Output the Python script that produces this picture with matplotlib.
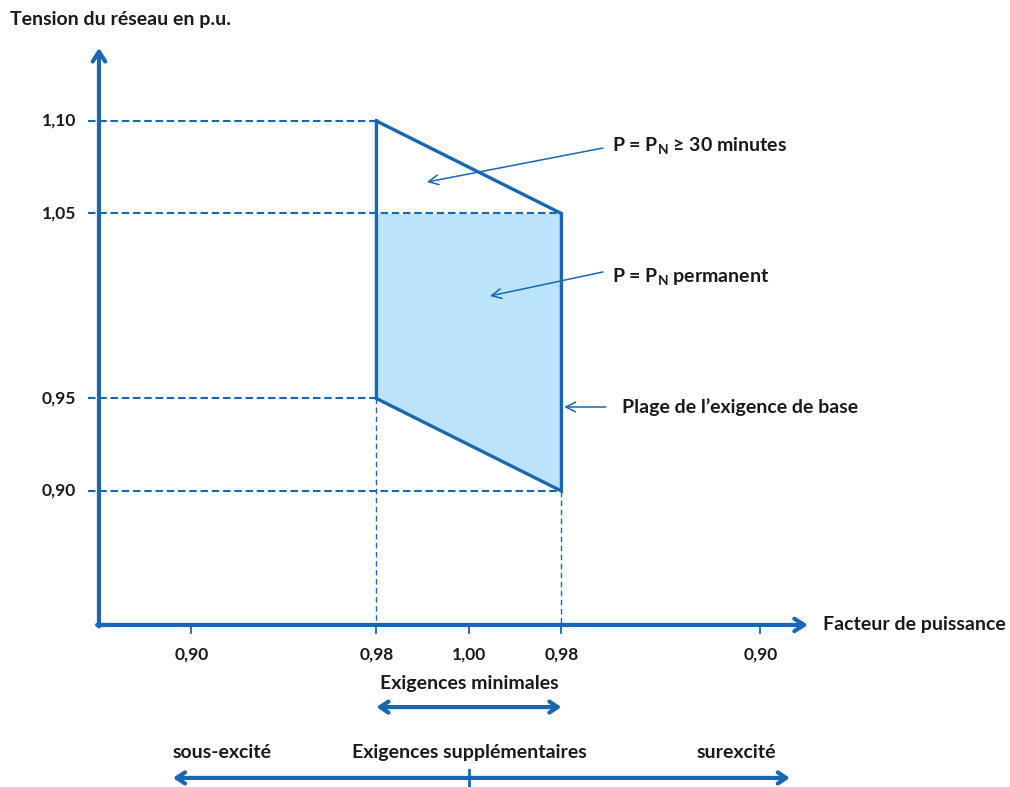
import matplotlib
matplotlib.use("Agg")
import matplotlib.pyplot as plt

# Data
#
volt_levels = [1.10, 1.05, 0.95, 0.90]
volt_labels = ["1,10", "1,05", "0,95", "0,90"]
pf_labels = ["0,90", "0,98", "1,00", "0,98", "0,90"]
pf_pos = [-3.0, -1.0, 0.0, 1.0, 3.15]

# Operating region (under-excited 0,98 -> over-excited 0,98)
#
region_x = [-1.0, 1.0]
region_top = [1.10, 1.05]
region_bottom = [0.95, 0.90]
permanent_top = 1.05

BLUE = "#1767b2"
FILL = "#bbe3fb"
TXT = "#1a1a1a"
FONT = ["Lato", "DejaVu Sans"]
FS = 14
FS_TICK = 12.5

plt.rcParams["font.family"] = FONT
plt.rcParams["font.weight"] = "bold"
plt.rcParams["mathtext.default"] = "regular"

fig = plt.figure(figsize=(10.1, 7.87), dpi=100)
ax = fig.add_axes([0, 0, 1, 1])
ax.set_xlim(-5.07, 5.85)
ax.set_ylim(0.74, 1.1654)
ax.axis("off")

x0, y0 = -4.0, 0.8276
x_end, y_end = 3.665, 1.1395

# Axes with arrows
#
head = "->,head_length=0.7,head_width=0.45"
ax.annotate("", xy=(x0, y_end), xytext=(x0, y0 - 0.0008),
            arrowprops=dict(arrowstyle=head, color=BLUE, lw=3.0,
                            shrinkA=0, shrinkB=0))
ax.annotate("", xy=(x_end, y0), xytext=(x0 - 0.02, y0),
            arrowprops=dict(arrowstyle=head, color=BLUE, lw=3.0,
                            shrinkA=0, shrinkB=0))

# Shaded permanent region
#
ax.fill_between(region_x, [permanent_top, permanent_top], region_bottom,
                color=FILL, lw=0, zorder=1)

# Dashed guide lines
#
dash = (3.6, 1.8)
for v, lab in zip(volt_levels, volt_labels):
    right = region_x[1] if v in (permanent_top, region_bottom[1]) else region_x[0]
    ax.plot([-4.12, right], [v, v], color=BLUE, lw=1.5, dashes=dash, zorder=2)
    ax.text(-4.25, v, lab, ha="right", va="center", fontsize=FS_TICK, color=TXT)

ax.plot([region_x[0]] * 2, [region_bottom[0], y0], color=BLUE, lw=1.0,
        dashes=(4, 2.5), zorder=2)
ax.plot([region_x[1]] * 2, [region_bottom[1], y0], color=BLUE, lw=1.0,
        dashes=(4, 2.5), zorder=2)

# Region outline
#
ax.plot([region_x[0], region_x[1], region_x[1], region_x[0], region_x[0]],
        [region_top[0], region_top[1], region_bottom[1], region_bottom[0], region_top[0]],
        color=BLUE, lw=2.4, solid_joinstyle="miter", zorder=3)

# Power factor ticks and labels
#
for p, lab in zip(pf_pos, pf_labels):
    ax.plot([p, p], [y0, y0 - 0.0045], color=BLUE, lw=1.3)
    ax.text(p, 0.8114, lab, ha="center", va="center", fontsize=FS_TICK, color=TXT)

ax.text(-4.96, 1.1546, "Tension du réseau en p.u.", ha="left", va="center",
        fontsize=FS, color=TXT)
ax.text(3.83, y0, "Facteur de puissance", ha="left", va="center",
        fontsize=FS, color=TXT)

# Callouts
#
thin = dict(arrowstyle="->,head_length=0.7,head_width=0.35", color=BLUE, lw=1.1,
            shrinkA=0, shrinkB=0)
ax.annotate("", xy=(-0.454, 1.067), xytext=(1.449, 1.0854), arrowprops=thin)
ax.text(1.546, 1.087, "P = P$_{N}$ ≥ 30 minutes", ha="left", va="center",
        fontsize=FS, color=TXT)
ax.annotate("", xy=(0.227, 1.0054), xytext=(1.449, 1.0184), arrowprops=thin)
ax.text(1.546, 1.0157, "P = P$_{N}$ permanent", ha="left", va="center",
        fontsize=FS, color=TXT)
ax.annotate("", xy=(1.03, 0.9454), xytext=(1.48, 0.9454), arrowprops=thin)
ax.text(1.654, 0.9454, "Plage de l’exigence de base", ha="left", va="center",
        fontsize=FS, color=TXT)

# Requirement ranges below the axis
#
dbl = "<->,head_length=0.6,head_width=0.4"
ax.text(0.0, 0.7962, "Exigences minimales", ha="center", va="center",
        fontsize=FS, color=TXT)
ax.annotate("", xy=(region_x[1], 0.7832), xytext=(region_x[0], 0.7832),
            arrowprops=dict(arrowstyle=dbl, color=BLUE, lw=3.0,
                            shrinkA=0, shrinkB=0))

ax.text(-2.67, 0.7589, "sous-excité", ha="center", va="center",
        fontsize=FS, color=TXT)
ax.text(0.0, 0.7589, "Exigences supplémentaires", ha="center", va="center",
        fontsize=FS, color=TXT)
ax.text(2.89, 0.7589, "surexcité", ha="center", va="center",
        fontsize=FS, color=TXT)
ax.annotate("", xy=(3.47, 0.7449), xytext=(-3.2, 0.7449),
            arrowprops=dict(arrowstyle=dbl, color=BLUE, lw=3.0,
                            shrinkA=0, shrinkB=0))
ax.plot([0, 0], [0.7492, 0.74], color=BLUE, lw=2.0)

fig.savefig("out.png", dpi=100, facecolor="white")
plt.close(fig)
